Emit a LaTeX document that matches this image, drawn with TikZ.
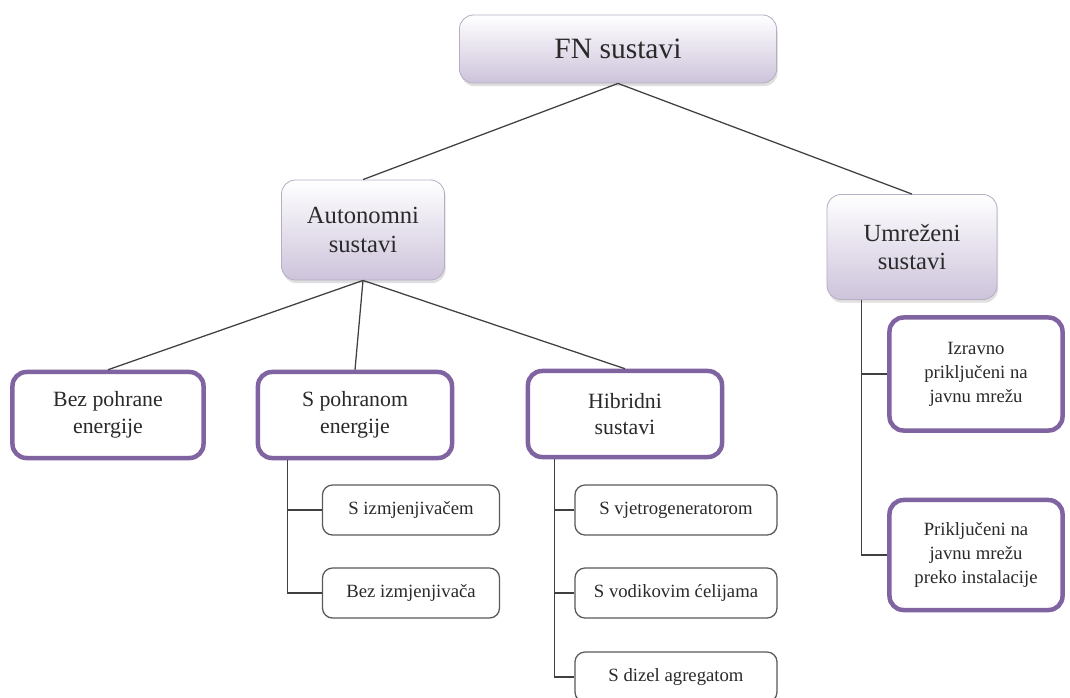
\documentclass[tikz,border=0pt]{standalone}
\usepackage{fontspec}
\setmainfont{Liberation Serif}
\usetikzlibrary{calc,shadows}
\definecolor{lvlpurple}{HTML}{8064A2}
\definecolor{lvlshade}{HTML}{CDC3DB}
\definecolor{lvledge}{HTML}{B7AEC4}
\definecolor{connline}{HTML}{404040}
\definecolor{txtgray}{HTML}{2A2A2A}
\begin{document}
\begin{tikzpicture}[x=0.025cm, y=-0.025cm,
  lvltop/.style={draw=lvledge, line width=0.6pt, rounded corners=0.35cm,
    top color=white, bottom color=lvlshade, align=center, inner sep=0pt, text=txtgray,
    drop shadow={opacity=0.25, shadow xshift=0.3mm, shadow yshift=-0.8mm}},
  lvlmid/.style={draw=lvlpurple, line width=3.2pt, rounded corners=0.35cm, fill=white,
    align=center, inner sep=0pt, text=txtgray, font=\fontsize{15.5}{19}\selectfont},
  lvlleaf/.style={draw=black!65, line width=0.9pt, rounded corners=0.25cm, fill=white,
    align=center, inner sep=0pt, text=txtgray, font=\fontsize{13.3}{17}\selectfont,
    minimum height=1.25cm},
  conn/.style={draw=connline, line width=0.9pt}]
  \useasboundingbox (0,0) rectangle (1070,697);
  \clip (0,0) rectangle (1070,697);
  % top level
  \node[lvltop, minimum width=7.925cm, minimum height=1.7cm, font=\fontsize{21}{25}\selectfont] (fn) at (618,49) {FN sustavi};
  \node[lvltop, minimum width=4.075cm, minimum height=2.5cm, font=\fontsize{17.5}{20.5}\selectfont] (auto) at (363,230) {Autonomni\\sustavi};
  \node[lvltop, minimum width=4.25cm, minimum height=2.625cm, font=\fontsize{17.5}{20.5}\selectfont] (umr) at (912,247) {Umreženi\\sustavi};
  % second level
  \node[lvlmid, minimum width=4.775cm, minimum height=2.15cm] (bez) at (108,415) {Bez pohrane\\energije};
  \node[lvlmid, minimum width=4.85cm, minimum height=2.15cm] (spohr) at (355,415) {S pohranom\\energije};
  \node[lvlmid, minimum width=4.85cm, minimum height=2.15cm] (hib) at (625,414) {Hibridni\\sustavi};
  \node[lvlmid, minimum width=4.325cm, minimum height=2.825cm, font=\fontsize{13.3}{17}\selectfont] (izr) at (976,374) {Izravno\\priključeni na\\javnu mrežu};
  \node[lvlmid, minimum width=4.325cm, minimum height=2.75cm, font=\fontsize{13.3}{17}\selectfont] (prik) at (976,555) {Priključeni na\\javnu mrežu\\preko instalacije};
  % leaves
  \node[lvlleaf, minimum width=4.425cm] (izmj) at (411,510) {S izmjenjivačem};
  \node[lvlleaf, minimum width=4.425cm] (bezizmj) at (411,593) {Bez izmjenjivača};
  \node[lvlleaf, minimum width=5.05cm] (vjetro) at (676,510) {S vjetrogeneratorom};
  \node[lvlleaf, minimum width=5.05cm] (vodik) at (676,593) {S vodikovim ćelijama};
  \node[lvlleaf, minimum width=5.05cm] (dizel) at (676,677) {S dizel agregatom};
  % connectors
  \draw[conn] (fn.south) -- (auto.north);
  \draw[conn] (fn.south) -- (umr.north);
  \draw[conn] (auto.south) -- (bez.north);
  \draw[conn] (auto.south) -- (spohr.north);
  \draw[conn] (auto.south) -- (hib.north);
  \draw[conn] ($(spohr.south west)+(32,0)$) |- (izmj.west);
  \draw[conn] ($(spohr.south west)+(32,0)$) |- (bezizmj.west);
  \draw[conn] ($(hib.south west)+(29,0)$) |- (vjetro.west);
  \draw[conn] ($(hib.south west)+(29,0)$) |- (vodik.west);
  \draw[conn] ($(hib.south west)+(29,0)$) |- (dizel.west);
  \draw[conn] ($(umr.south west)+(35,0)$) |- (izr.west);
  \draw[conn] ($(umr.south west)+(35,0)$) |- (prik.west);
\end{tikzpicture}
\end{document}
